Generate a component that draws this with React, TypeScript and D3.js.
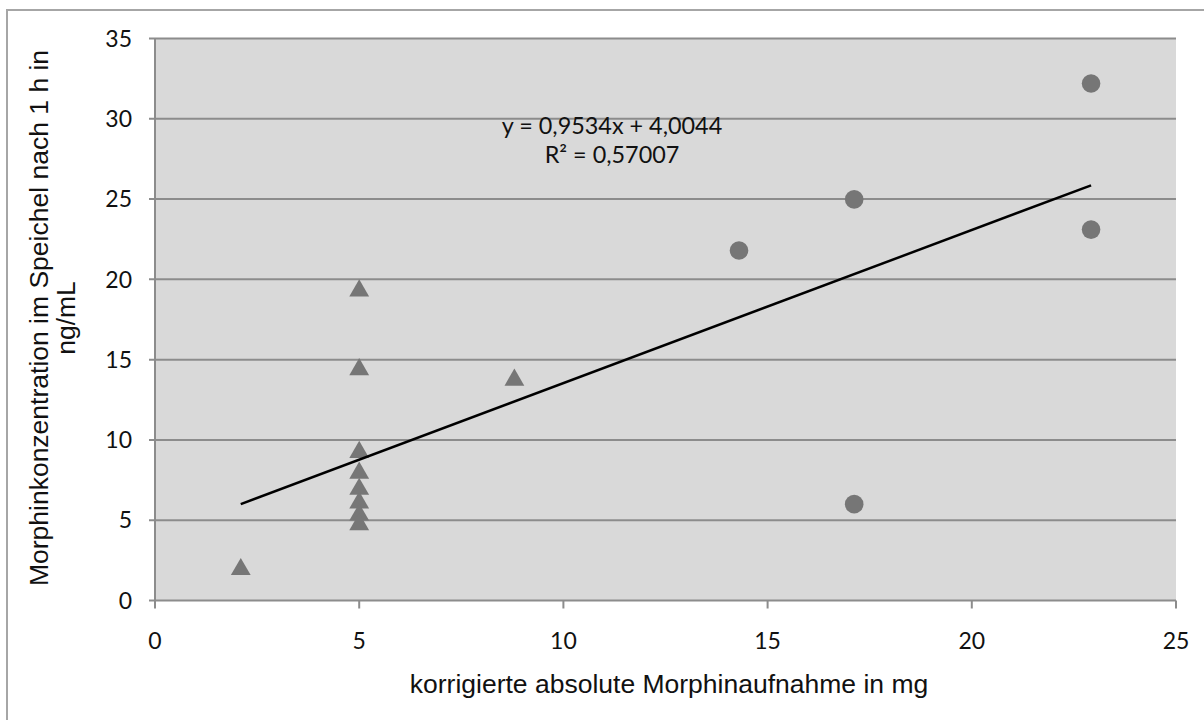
import React from "react";
import * as d3 from "d3";

const triX = [2.1, 5, 5, 5, 5, 5, 5, 5, 5, 8.8];
const triY = [2.0, 19.35, 14.45, 9.3, 8.0, 7.0, 6.15, 5.4, 4.8, 13.8];
const circX = [14.3, 17.12, 17.12, 22.92, 22.92];
const circY = [21.8, 24.98, 6.0, 32.2, 23.1];
const xTicks = [0, 5, 10, 15, 20, 25];
const yTicks = [0, 5, 10, 15, 20, 25, 30, 35];
const slope = 0.9534;
const intercept = 4.0044;
const eqLabel = "y = 0,9534x + 4,0044";
const r2Label = "R² = 0,57007";
const xTitle = "korrigierte absolute Morphinaufnahme in mg";
const yTitle1 = "Morphinkonzentration im Speichel nach 1 h in";
const yTitle2 = "ng/mL";

export default function App() {
  const W = 1204, H = 720;
  const L = 155, R = 1176, T = 38.5, B = 600.5;
  const x = d3.scaleLinear().domain([0, 25]).range([L, R]);
  const y = d3.scaleLinear().domain([0, 35]).range([B, T]);
  const allX = [...triX, ...circX];
  const xmin = d3.min(allX) as number, xmax = d3.max(allX) as number;
  const line = d3.line<number>().x(d => x(d)).y(d => y(slope * d + intercept));
  const tri = d3.symbol().type(d3.symbolTriangle).size(170)() as string;
  const gray = "#8c8c8c";
  const mark = "#767676";
  const tickFont = "Lato, 'Open Sans', sans-serif";
  const titleFont = "'Liberation Sans', Arial, sans-serif";
  return (
    <svg width={W} height={H} style={{ position: "absolute", left: 0, top: 0, background: "#fff" }}>
      <rect x={7} y={10} width={W + 20} height={H + 20} fill="#fff" stroke="#a6a6a6" strokeWidth={2} />
      <rect x={L} y={T} width={R - L} height={B - T} fill="#d9d9d9" />
      {yTicks.map(t => (
        <g key={"y" + t}>
          <line x1={L - 6} x2={t === 0 ? L : R} y1={y(t)} y2={y(t)} stroke={gray} strokeWidth={2} />
          <text x={132} y={y(t)} dy="0.36em" textAnchor="end" fontFamily={tickFont} fontSize={23} fill="#111">{t}</text>
        </g>
      ))}
      <line x1={L} x2={L} y1={T} y2={B} stroke={gray} strokeWidth={2} />
      <line x1={L} x2={R} y1={B} y2={B} stroke={gray} strokeWidth={2} />
      {xTicks.map(t => (
        <g key={"x" + t}>
          <line x1={x(t)} x2={x(t)} y1={B} y2={B + 8} stroke={gray} strokeWidth={2} />
          <text x={x(t)} y={641} dy="0.36em" textAnchor="middle" fontFamily={tickFont} fontSize={23} fill="#111">{t}</text>
        </g>
      ))}
      {triX.map((v, i) => (
        <path key={"t" + i} d={tri} transform={`translate(${x(v)},${y(triY[i]) + 1})`} fill={mark} />
      ))}
      {circX.map((v, i) => (
        <circle key={"c" + i} cx={x(v)} cy={y(circY[i])} r={9.3} fill={mark} />
      ))}
      <path d={line([xmin, xmax]) as string} stroke="#000" strokeWidth={2.5} fill="none" />
      <text x={612} y={126} dy="0.36em" textAnchor="middle" fontFamily={tickFont} fontSize={23.4} fill="#111">{eqLabel}</text>
      <text x={612} y={155} dy="0.36em" textAnchor="middle" fontFamily={tickFont} fontSize={23.4} fill="#111">{r2Label}</text>
      <text x={669} y={683} dy="0.36em" textAnchor="middle" fontFamily={titleFont} fontSize={26.5} fill="#111">{xTitle}</text>
      <g transform="translate(38,318) rotate(-90)">
        <text x={0} y={0} dy="0.36em" textAnchor="middle" fontFamily={titleFont} fontSize={26.5} fill="#111">{yTitle1}</text>
      </g>
      <g transform="translate(65,318) rotate(-90)">
        <text x={0} y={0} dy="0.36em" textAnchor="middle" fontFamily={titleFont} fontSize={26.5} fill="#111">{yTitle2}</text>
      </g>
    </svg>
  );
}
